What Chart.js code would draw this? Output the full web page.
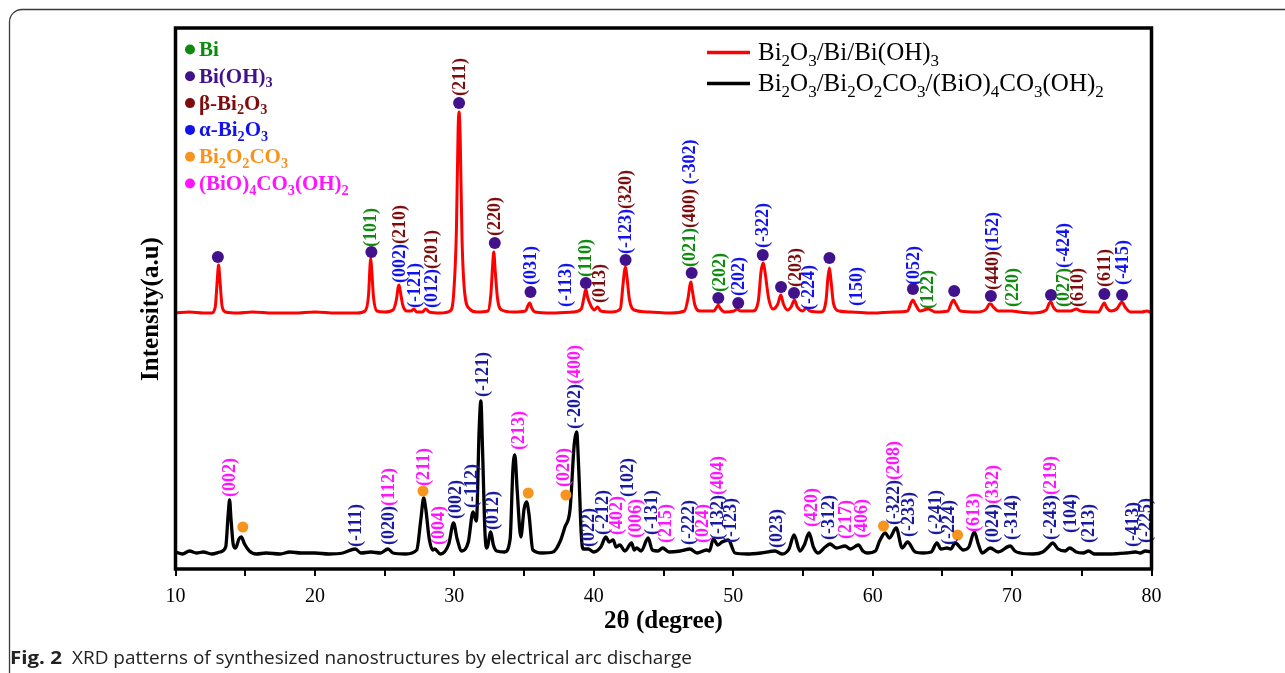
<!DOCTYPE html>
<html>
<head>
<meta charset="utf-8">
<script src="https://cdn.jsdelivr.net/npm/chart.js@4.4.1/dist/chart.umd.min.js"></script>
<style>
  html, body { margin: 0; padding: 0; background: #fff; }
  #wrap { width: 1285px; height: 673px; position: relative; }
</style>
</head>
<body>
<div id="wrap"><canvas id="xrd" width="1285" height="673"></canvas></div>
<script>
// 2θ ticks (every 5, labelled every 10)
const tickValues = [10, 20, 30, 40, 50, 60, 70, 80];

// Bi2O3/Bi/Bi(OH)3 pattern (red, offset upward)
const redAngle = [10.0, 11.0, 12.0, 12.6, 12.85, 13.0, 13.09, 13.18, 13.35, 13.6, 14.5, 15.5, 17.0, 18.5, 20.0, 21.5, 23.0,
    23.6, 23.85, 23.95, 24.0, 24.07, 24.2, 24.45, 25.0, 25.6, 25.85, 25.97, 26.03, 26.12, 26.3, 26.6, 26.9, 27.09, 27.3,
    27.7, 27.95, 28.2, 29.0, 29.7, 29.95, 30.15, 30.27, 30.34, 30.42, 30.55, 30.75, 31.1, 31.6, 32.4, 32.62, 32.75, 32.83,
    32.92, 33.1, 33.4, 34.2, 35.1, 35.3, 35.41, 35.55, 35.8, 37.0, 38.5, 39.1, 39.3, 39.43, 39.55, 39.8, 40.05, 40.27, 40.5,
    41.3, 41.9, 42.1, 42.2, 42.28, 42.38, 42.55, 42.9, 44.0, 45.5, 46.5, 46.75, 46.9, 46.97, 47.05, 47.25, 47.6, 48.6, 48.82,
    48.93, 49.05, 49.4, 50.05, 50.29, 50.5, 51.4, 51.8, 52.0, 52.16, 52.3, 52.55, 52.85, 53.2, 53.41, 53.6, 53.9, 54.15,
    54.39, 54.6, 55.0, 55.23, 55.5, 56.3, 56.65, 56.8, 56.9, 57.0, 57.2, 57.6, 58.5, 60.0, 61.5, 62.5, 62.75, 62.89, 63.05,
    63.4, 63.98, 64.5, 65.4, 65.65, 65.8, 65.97, 66.3, 67.5, 68.15, 68.38, 68.48, 68.65, 69.0, 69.99, 70.5, 71.5, 72.45,
    72.68, 72.79, 72.95, 73.3, 74.2, 74.61, 74.9, 76.2, 76.5, 76.62, 76.8, 77.1, 77.5, 77.89, 78.1, 78.5, 79.3, 79.68, 80.0];
const redIntensity = [256, 257, 256, 256, 262, 290, 304, 290, 262, 257, 256, 257, 256, 256, 257, 256, 256,
    258, 275, 303, 311, 300, 272, 258, 257, 259, 270, 282, 284, 278, 264, 258, 258, 260, 257,
    257, 260, 257, 256, 258, 275, 340, 440, 457, 430, 330, 275, 260, 257, 258, 275, 305, 317,
    300, 270, 259, 257, 258, 264, 266, 261, 257, 256, 257, 260, 272, 280, 272, 263, 259, 262, 258,
    257, 260, 285, 298, 302, 292, 270, 259, 257, 256, 258, 270, 284, 287, 280, 264, 258, 258, 262,
    264, 261, 257, 258, 260, 258, 258, 268, 298, 306, 295, 270, 260, 265, 274, 265, 259, 262,
    269, 262, 258, 261, 258, 257, 268, 292, 301, 290, 265, 258, 257, 256, 257, 258, 266, 269, 265,
    258, 260, 257, 258, 266, 269, 265, 258, 257, 260, 265, 265, 262, 258, 258, 257, 256, 259,
    266, 267, 262, 258, 258, 260, 258, 257, 264, 266, 261, 258, 260, 267, 262, 257, 257, 258, 256];

// Bi2O3/Bi2O2CO3/(BiO)4CO3(OH)2 pattern (black)
const blackAngle = [10.0, 10.5, 11.0, 11.5, 12.0, 12.6, 13.2, 13.6, 13.78, 13.88, 13.98, 14.15, 14.31, 14.55, 14.72, 14.95,
    15.3, 15.8, 16.5, 17.5, 18.2, 19.0, 20.0, 21.0, 22.0, 22.9, 23.3, 24.0, 24.7, 25.24, 25.6, 26.5, 27.3, 27.6, 27.8,
    27.95, 28.2, 28.45, 28.59, 29.0, 29.6, 29.94, 30.2, 30.53, 31.0, 31.34, 31.58, 31.78, 31.9, 32.02, 32.2, 32.33, 32.61,
    32.8, 33.04, 33.6, 34.0, 34.2, 34.34, 34.5, 34.77, 35.0, 35.18, 35.35, 35.63, 36.3, 37.07, 37.6, 37.93, 38.3, 38.6,
    38.77, 38.92, 39.1, 39.22, 39.6, 40.0, 40.5, 40.87, 41.1, 41.39, 41.6, 41.87, 42.23, 42.71, 42.9, 43.07, 43.4, 43.9,
    44.2, 44.6, 44.94, 45.4, 46.2, 46.9, 47.4, 48.1, 48.3, 48.57, 48.9, 49.2, 49.65, 50.13, 51.0, 52.0, 53.0, 53.5, 54.0,
    54.36, 54.79, 55.1, 55.44, 55.75, 56.08, 56.6, 56.94, 57.4, 58.02, 58.4, 58.98, 59.3, 59.6, 60.2, 60.5, 60.9, 61.2,
    61.69, 62.12, 62.5, 63.05, 63.6, 64.2, 64.61, 64.9, 65.33, 65.6, 65.92, 66.5, 66.9, 67.29, 67.6, 67.86, 68.43, 69.0,
    69.87, 70.2, 70.59, 71.5, 72.2, 72.6, 72.91, 73.3, 73.8, 74.13, 74.6, 75.1, 75.49, 75.9, 77.05, 78.2, 78.84, 79.2,
    79.56, 80.0];
const blackIntensity = [17, 15, 18, 16, 17, 15, 17, 22, 55, 69, 50, 24, 21, 30, 32, 25,
    18, 15, 16, 15, 17, 16, 16, 15, 16, 20, 16, 17, 16, 20, 16, 15, 19, 50, 71,
    60, 30, 19, 20, 15, 25, 46, 30, 18, 27, 57, 48, 140, 168, 120, 35, 21, 37,
    24, 18, 17, 30, 100, 114, 80, 32, 60, 67, 55, 19, 16, 17, 28, 42, 60, 125,
    137, 100, 35, 20, 20, 17, 22, 32, 27, 29, 22, 24, 18, 26, 19, 21, 18, 31,
    19, 18, 21, 17, 18, 20, 16, 19, 18, 30, 24, 27, 29, 16, 15, 16, 18, 15, 20,
    34, 18, 24, 36, 22, 16, 22, 25, 21, 23, 20, 24, 18, 16, 18, 28, 36, 31,
    41, 21, 27, 17, 16, 17, 26, 20, 21, 20, 26, 19, 22, 37, 24, 16, 21, 17,
    23, 18, 16, 15, 17, 22, 26, 20, 18, 21, 17, 16, 18, 15, 15, 16, 17, 16,
    18, 17];

// phase markers: Bi(OH)3 on the red pattern, Bi2O2CO3 on the black one
const bioh3Angle = [13.04, 24.05, 30.34, 32.9, 35.46, 39.43, 42.28, 47.02, 48.93, 50.36, 52.12, 53.43, 54.36, 56.9,
    62.89, 65.85, 68.48, 72.79, 76.62, 77.89];
const bioh3Level = [312, 317, 466, 326, 277, 286, 309, 296, 271, 266, 314, 282, 276, 311, 280, 278, 273, 274, 275, 274];
const carbAngle = [14.83, 27.75, 35.3, 38.0, 60.78, 66.09];
const carbLevel = [42, 78, 76, 74, 43, 34];

// Miller index labels: [2θ, intensity at start of text, [[text, phase], ...]]
const redHkl = [
    [24.0, 322, [['(101)', 'Bi']]],
    [26.08, 286, [['(002)', 'a'], ['(210)', 'b']]],
    [27.16, 261, [['(-121)', 'a']]],
    [28.36, 261, [['(012)', 'a'], ['(201)', 'b']]],
    [30.34, 473, [['(211)', 'b']]],
    [32.9, 333, [['(220)', 'b']]],
    [35.46, 284, [['(031)', 'a']]],
    [37.93, 262, [['(-113)', 'a']]],
    [39.36, 292, [['(110)', 'Bi']]],
    [40.39, 266, [['(013)', 'b']]],
    [42.28, 315, [['(-123)', 'a'], ['(320)', 'b']]],
    [46.85, 302, [['(021)', 'Bi'], ['(400)', 'b'], [' (-302)', 'a']]],
    [49.0, 277, [['(202)', 'Bi']]],
    [50.37, 273, [['(202)', 'a']]],
    [52.12, 321, [['(-322)', 'a']]],
    [54.44, 282, [['(203)', 'b']]],
    [55.37, 259, [['(-224)', 'a']]],
    [58.81, 263, [['(150)', 'a']]],
    [62.89, 284, [['(052)', 'a']]],
    [63.89, 260, [['(122)', 'Bi']]],
    [68.56, 279, [['(440)', 'b'], ['(152)', 'a']]],
    [69.99, 262, [['(220)', 'Bi']]],
    [73.7, 262, [['(027)', 'Bi'], ['(-424)', 'a']]],
    [74.66, 262, [['(610)', 'b']]],
    [76.62, 282, [['(611)', 'b']]],
    [77.89, 284, [['(-415)', 'a']]]
];
const blackHkl = [
    [13.83, 72, [['(002)', 'm']]],
    [22.92, 22, [['(-111)', 'n']]],
    [25.24, 24, [['(020)', 'n'], ['(112)', 'm']]],
    [27.75, 83, [['(211)', 'm']]],
    [28.83, 24, [['(004)', 'm']]],
    [30.1, 50, [['(002)', 'n']]],
    [31.23, 61, [['(-112)', 'n']]],
    [32.02, 172, [['(-121)', 'n']]],
    [32.73, 39, [['(012)', 'n']]],
    [34.57, 119, [['(213)', 'm']]],
    [37.85, 82, [['(020)', 'm']]],
    [38.64, 140, [['(-202)', 'n'], ['(400)', 'm']]],
    [39.6, 22, [['(022)', 'n']]],
    [40.63, 34, [['(-212)', 'n']]],
    [41.59, 34, [['(402)', 'm']]],
    [42.4, 72, [['(102)', 'n']]],
    [42.95, 31, [['(006)', 'm']]],
    [44.15, 34, [['(-131)', 'n']]],
    [45.1, 26, [['(215)', 'm']]],
    [46.78, 24, [['(-222)', 'n']]],
    [47.81, 26, [['(024)', 'm']]],
    [48.86, 29, [['(-132)', 'n'], ['(404)', 'm']]],
    [49.82, 26, [['(-123)', 'n']]],
    [53.07, 21, [['(023)', 'n']]],
    [55.63, 42, [['(420)', 'm']]],
    [56.83, 29, [['(-312)', 'n']]],
    [58.03, 30, [['(217)', 'm']]],
    [59.22, 31, [['(406)', 'm']]],
    [61.49, 44, [['(-322)', 'n'], ['(208)', 'm']]],
    [62.57, 32, [['(-233)', 'n']]],
    [64.49, 34, [['(-241)', 'n']]],
    [65.44, 24, [['(-224)', 'n']]],
    [67.24, 37, [['(613)', 'm']]],
    [68.56, 26, [['(024)', 'n'], ['(332)', 'm']]],
    [69.92, 29, [['(-314)', 'n']]],
    [72.74, 29, [['(-243)', 'n'], ['(219)', 'm']]],
    [74.18, 36, [['(104)', 'n']]],
    [75.49, 26, [['(213)', 'n']]],
    [78.61, 22, [['(-413)', 'n']]],
    [79.56, 26, [['(-225)', 'n']]]
];

const phaseNames = ['Bi', 'Bi(OH)_3', 'β-Bi_2O_3', 'α-Bi_2O_3', 'Bi_2O_2CO_3', '(BiO)_4CO_3(OH)_2'];
const seriesNames = ['Bi_2O_3/Bi/Bi(OH)_3', 'Bi_2O_3/Bi_2O_2CO_3/(BiO)_4CO_3(OH)_2'];

const colors = {
    Bi: '#0f8a0f', p: '#42118c', b: '#7d0d0d', a: '#1212ee', o: '#f7941d', m: '#ff14ff', n: '#1a1a9e'
};
const phaseColors = [colors.Bi, colors.p, colors.b, colors.a, colors.o, colors.m];
const SERIF = '"Liberation Serif", "Times New Roman", serif';

function zip(xs, ys) {
    return xs.map((x, i) => ({ x: x, y: ys[i] }));
}

// text with "_X" meaning subscript X
function drawRich(ctx, str, x, y, size, bold, color) {
    ctx.fillStyle = color;
    ctx.textBaseline = 'alphabetic';
    ctx.textAlign = 'left';
    let cx = x;
    for (let i = 0; i < str.length; i++) {
        let ch = str[i];
        let sub = false;
        if (ch === '_' && i + 1 < str.length) { sub = true; ch = str[++i]; }
        const sz = sub ? size * 0.68 : size;
        ctx.font = `${bold ? 'bold ' : ''}${sz}px ${SERIF}`;
        ctx.fillText(ch, cx, y + (sub ? size * 0.22 : 0));
        cx += ctx.measureText(ch).width;
    }
    return cx;
}

const decorPlugin = {
    id: 'decor',
    afterDatasetsDraw(chart) {
        const ctx = chart.ctx;
        const xs = chart.scales.x, ys = chart.scales.y;
        const drawLabels = (list, palette) => {
            list.forEach(([ang, lvl, parts]) => {
                const px = xs.getPixelForValue(ang);
                const py = ys.getPixelForValue(lvl);
                ctx.save();
                ctx.translate(px, py);
                ctx.rotate(-Math.PI / 2);
                ctx.font = `bold 18px ${SERIF}`;
                ctx.textBaseline = 'middle';
                ctx.textAlign = 'left';
                let off = 0;
                parts.forEach(([t, ph]) => {
                    ctx.fillStyle = palette[ph];
                    ctx.fillText(t, off, 1);
                    off += ctx.measureText(t).width;
                });
                ctx.restore();
            });
        };
        drawLabels(redHkl, colors);
        drawLabels(blackHkl, colors);
    },
    afterDraw(chart) {
        const ctx = chart.ctx;
        const area = chart.chartArea;
        ctx.save();
        // outer figure frame
        ctx.strokeStyle = '#3a3a3a';
        ctx.lineWidth = 1.3;
        ctx.beginPath();
        ctx.moveTo(1290, 9.5);
        ctx.lineTo(22, 9.5);
        ctx.arcTo(9.5, 9.5, 9.5, 22, 12.5);
        ctx.lineTo(9.5, 680);
        ctx.stroke();

        // plot frame
        ctx.strokeStyle = '#000';
        ctx.lineWidth = 3.5;
        ctx.strokeRect(area.left, area.top, area.right - area.left, area.bottom - area.top);

        // phase legend (top left)
        phaseNames.forEach((name, i) => {
            const cy = 49.5 + i * 26.8;
            ctx.fillStyle = phaseColors[i];
            ctx.beginPath();
            ctx.arc(190, cy, 5, 0, Math.PI * 2);
            ctx.fill();
            drawRich(ctx, name, 199, cy + 6.5, 21, true, phaseColors[i]);
        });

        // series legend (top right)
        const lineCols = ['#ff0000', '#000000'];
        seriesNames.forEach((name, i) => {
            const ly = 52.5 + i * 31;
            ctx.strokeStyle = lineCols[i];
            ctx.lineWidth = 3.5;
            ctx.beginPath();
            ctx.moveTo(707, ly);
            ctx.lineTo(750, ly);
            ctx.stroke();
            drawRich(ctx, name, 758, ly + 7.5, 25, false, '#000');
        });

        // axis titles
        ctx.fillStyle = '#000';
        ctx.font = `bold 25px ${SERIF}`;
        ctx.textAlign = 'center';
        ctx.textBaseline = 'middle';
        ctx.save();
        ctx.translate(152, 309);
        ctx.rotate(-Math.PI / 2);
        ctx.fillText('Intensity(a.u)', 0, 0);
        ctx.restore();
        ctx.font = `bold 25px ${SERIF}`;
        ctx.fillText('2θ (degree)', (area.left + area.right) / 2, 622);

        // caption
        ctx.textAlign = 'left';
        ctx.textBaseline = 'alphabetic';
        ctx.font = 'bold 18px "Open Sans", sans-serif';
        ctx.fillStyle = '#222';
        const figW = ctx.measureText('Fig. 2').width;
        ctx.save();
        ctx.translate(10, 664);
        ctx.scale(52 / figW, 1);
        ctx.fillText('Fig. 2', 0, 0);
        ctx.restore();
        ctx.font = '18px "Open Sans", sans-serif';
        const cap = 'XRD patterns of synthesized nanostructures by electrical arc discharge';
        const capW = ctx.measureText(cap).width;
        ctx.save();
        ctx.translate(72, 664);
        ctx.scale(620 / capW, 1);
        ctx.fillText(cap, 0, 0);
        ctx.restore();
        ctx.restore();
    }
};

new Chart(document.getElementById('xrd'), {
    type: 'line',
    data: {
        datasets: [
            {
                data: zip(bioh3Angle, bioh3Level),
                type: 'scatter',
                pointRadius: 6,
                pointBackgroundColor: colors.p,
                pointBorderWidth: 0,
                order: 0
            },
            {
                data: zip(carbAngle, carbLevel),
                type: 'scatter',
                pointRadius: 5.5,
                pointBackgroundColor: colors.o,
                pointBorderWidth: 0,
                order: 0
            },
            {
                data: zip(redAngle, redIntensity),
                borderColor: '#ff0000',
                borderWidth: 3,
                pointRadius: 0,
                cubicInterpolationMode: 'monotone',
                order: 1
            },
            {
                data: zip(blackAngle, blackIntensity),
                borderColor: '#000000',
                borderWidth: 3.3,
                pointRadius: 0,
                cubicInterpolationMode: 'monotone',
                order: 1
            }
        ]
    },
    options: {
        responsive: false,
        animation: false,
        events: [],
        layout: { padding: { left: 175.5, right: 133.5, top: 28, bottom: 0 } },
        plugins: { legend: { display: false }, tooltip: { enabled: false } },
        scales: {
            x: {
                type: 'linear',
                min: 10,
                max: 80,
                afterFit: s => { s.height = 104; },
                border: { display: false },
                grid: { drawOnChartArea: false, drawTicks: true, tickLength: 7, color: '#000', lineWidth: 2 },
                ticks: {
                    stepSize: 5,
                    autoSkip: false,
                    maxRotation: 0,
                    padding: 9,
                    color: '#000',
                    font: { family: SERIF, size: 20 },
                    callback: v => (tickValues.includes(v) ? String(v) : '')
                }
            },
            y: { display: false, min: 0, max: 541 }
        }
    },
    plugins: [decorPlugin]
});
</script>
</body>
</html>
